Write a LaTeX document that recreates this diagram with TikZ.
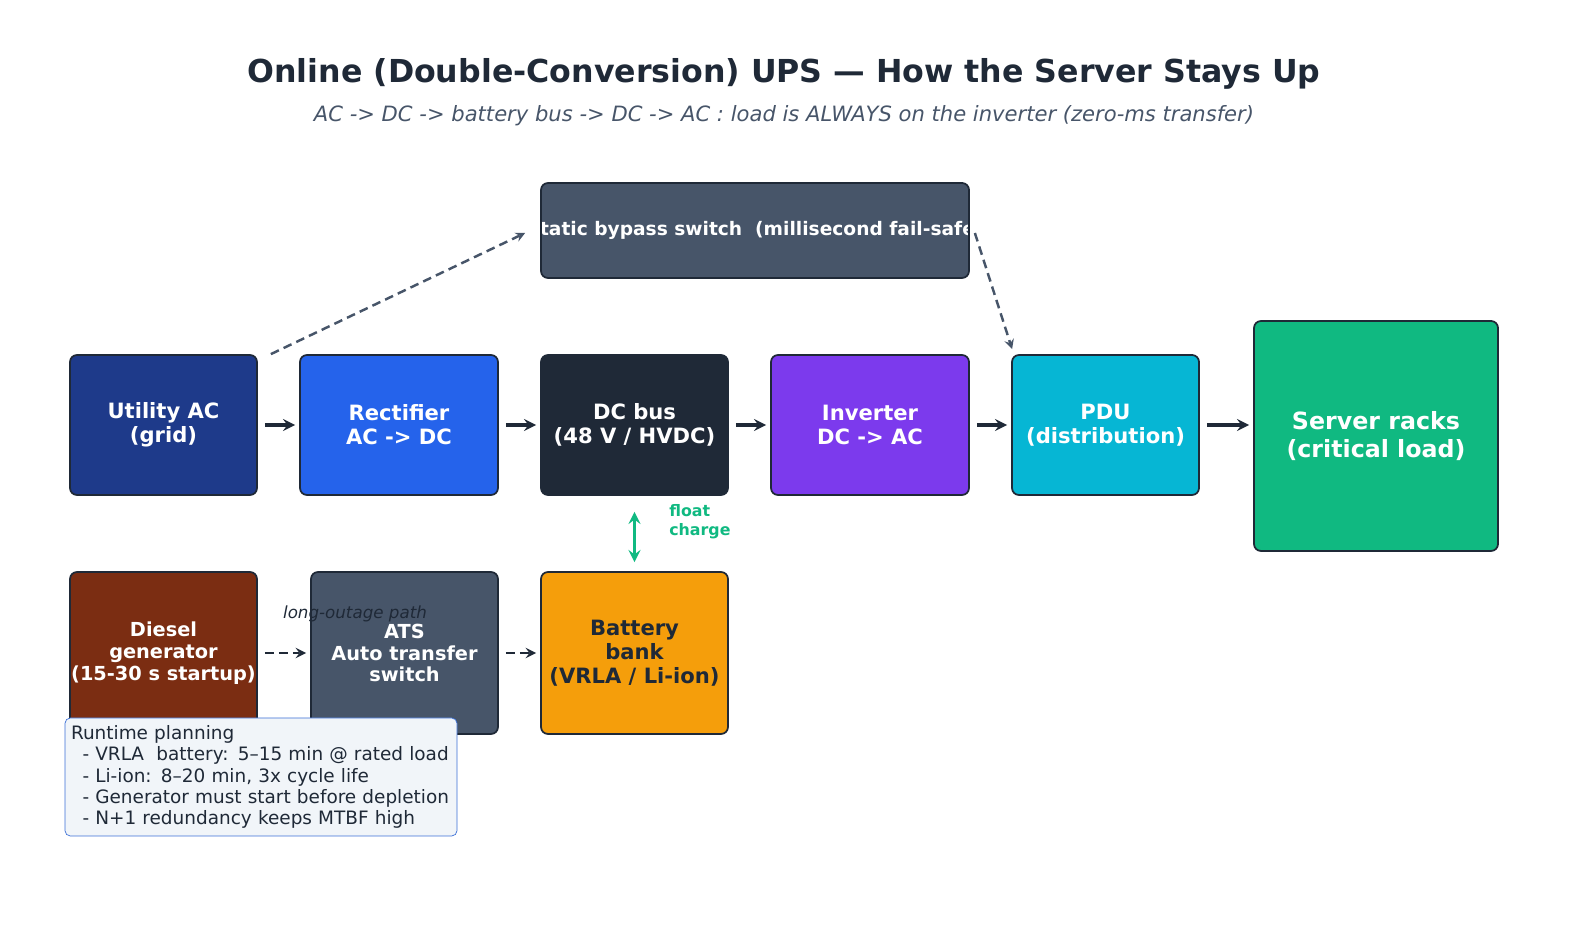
\documentclass[tikz,border=0pt]{standalone}
\usepackage{fontspec}
\setmainfont{DejaVu Sans}
\usetikzlibrary{positioning}
\usetikzlibrary{shapes.geometric, arrows}
\definecolor{edgeDark}{HTML}{1F2937}
\definecolor{slate}{HTML}{475569}
\definecolor{utilBlue}{HTML}{1E3A8A}
\definecolor{rectBlue}{HTML}{2563EB}
\definecolor{invPurple}{HTML}{7C3AED}
\definecolor{pduCyan}{HTML}{06B6D4}
\definecolor{loadGreen}{HTML}{10B981}
\definecolor{dieselBrown}{HTML}{7B2D12}
\definecolor{battOrange}{HTML}{F59E0B}
\definecolor{noteFill}{HTML}{F1F5F9}
\definecolor{noteEdge}{HTML}{3B6FD6}
\tikzstyle{block} = [rectangle, rounded corners=4pt, draw=edgeDark, line width=1pt, text=white, font=\bfseries\fontsize{12}{13.5}\selectfont, align=center, minimum width=3.74cm, minimum height=2.8cm, inner sep=0pt]
\tikzstyle{arrow} = [line width=2pt, draw=edgeDark, ->, >=stealth]
\tikzstyle{dasharrow} = [line width=1.6pt, draw=edgeDark, dash pattern=on 5pt off 3pt, ->, >=stealth]
\tikzstyle{bypassarrow} = [line width=1.4pt, draw=slate, dash pattern=on 5pt off 3pt, ->, >=stealth]

\begin{document}
\begin{tikzpicture}
	\useasboundingbox (0,0) rectangle (31.72,18.82);

	\node (title) at (15.68,17.34) {\bfseries\fontsize{18}{21}\selectfont\color{edgeDark}Online (Double-Conversion) UPS — How the Server Stays Up};
	\node (subtitle) at (15.68,16.50) {\itshape\fontsize{12}{14}\selectfont\color{slate}AC -> DC -> battery bus -> DC -> AC : load is ALWAYS on the inverter (zero-ms transfer)};

	\node (utility)[block, fill=utilBlue] at (3.27,10.32) {Utility AC\\(grid)};
	\node (rectifier)[block, fill=rectBlue, minimum width=3.96cm] at (7.98,10.32) {Rectifier\\AC -> DC};
	\node (dcBus)[block, fill=edgeDark] at (12.69,10.32) {DC bus\\(48 V / HVDC)};
	\node (inverter)[block, fill=invPurple, minimum width=3.96cm] at (17.40,10.32) {Inverter\\DC -> AC};
	\node (pdu)[block, fill=pduCyan] at (22.11,10.32) {PDU\\(distribution)};
	\node (servers)[block, fill=loadGreen, minimum width=4.88cm, minimum height=4.6cm, font=\bfseries\fontsize{13.5}{15.5}\selectfont] at (27.52,10.10) {Server racks\\(critical load)};

	\node (bypass)[block, fill=slate, minimum width=8.56cm, minimum height=1.9cm,
		path picture={\node[text=white, font=\bfseries\fontsize{10.6}{12}\selectfont] at (path picture bounding box.center) {Static bypass switch \ (millisecond fail-safe)};}] at (15.10,14.21) {};

	\node (diesel)[block, fill=dieselBrown, minimum height=3.24cm, font=\bfseries\fontsize{11}{12.5}\selectfont] at (3.27,5.76) {Diesel\\generator\\(15-30 s startup)};
	\node (ats)[block, fill=slate, minimum height=3.24cm, font=\bfseries\fontsize{11}{12.5}\selectfont] at (8.09,5.76) {ATS\\Auto transfer\\switch};
	\node (battery)[block, fill=battOrange, text=edgeDark, minimum height=3.24cm] at (12.69,5.76) {Battery\\bank\\(VRLA / Li-ion)};

	\draw [arrow] ([xshift=0.14cm]utility.east) -- ([xshift=-0.08cm]rectifier.west);
	\draw [arrow] ([xshift=0.14cm]rectifier.east) -- ([xshift=-0.08cm]dcBus.west);
	\draw [arrow] ([xshift=0.14cm]dcBus.east) -- ([xshift=-0.08cm]inverter.west);
	\draw [arrow] ([xshift=0.14cm]inverter.east) -- ([xshift=-0.08cm]pdu.west);
	\draw [arrow] ([xshift=0.14cm]pdu.east) -- ([xshift=-0.08cm]servers.west |- pdu.east);

	\draw [bypassarrow] ([xshift=0.26cm]utility.north east) -- ([xshift=-0.3cm, yshift=-0.05cm]bypass.west);
	\draw [bypassarrow] ([xshift=0.1cm, yshift=-0.05cm]bypass.east) -- ([xshift=0.02cm, yshift=0.1cm]pdu.north west);

	\draw [line width=2pt, draw=loadGreen, <->, >=stealth] ([yshift=-0.32cm]dcBus.south) -- ([yshift=0.18cm]battery.north);
	\node (floatLabel)[anchor=north west, align=left, text=loadGreen, font=\bfseries\fontsize{9}{11}\selectfont, inner sep=0pt] at (13.38,8.74) {float\\charge};

	\draw [dasharrow] ([xshift=0.14cm]diesel.east) -- ([xshift=-0.08cm]ats.west);
	\draw [dasharrow] ([xshift=0.14cm]ats.east) -- ([xshift=-0.08cm]battery.west);
	\node (outageLabel) at (7.10,6.54) {\itshape\fontsize{9.5}{11}\selectfont\color{edgeDark}long-outage path};

	\node (runtime)[rectangle, rounded corners=3pt, draw=noteEdge, fill=noteFill, minimum width=7.84cm, minimum height=2.36cm, text width=7.7cm, align=left, inner sep=0pt, text=edgeDark, font=\fontsize{10.5}{12}\selectfont] at (5.22,3.28) {\hspace{0.05cm}Runtime planning\\
		\hspace{0.28cm}- VRLA \ battery: 5–15 min @ rated load\\
		\hspace{0.28cm}- Li-ion: 8–20 min, 3x cycle life\\
		\hspace{0.28cm}- Generator must start before depletion\\
		\hspace{0.28cm}- N+1 redundancy keeps MTBF high};
\end{tikzpicture}
\end{document}
